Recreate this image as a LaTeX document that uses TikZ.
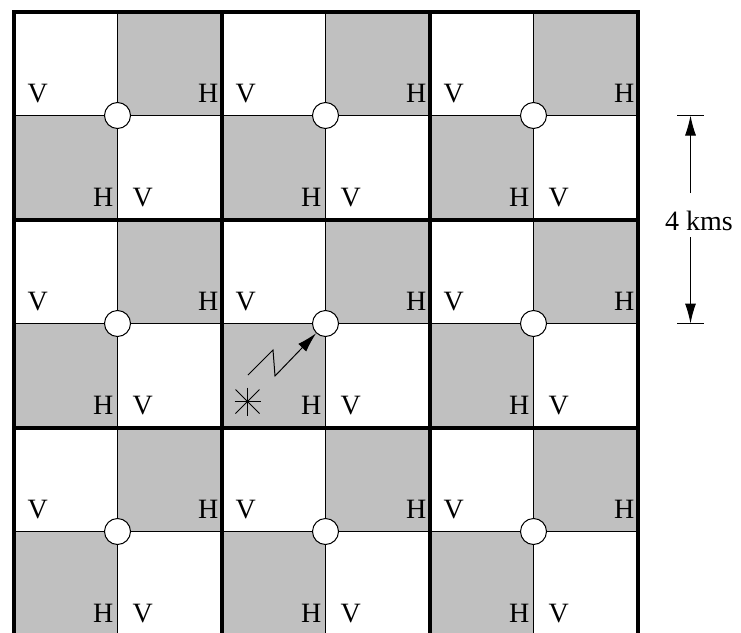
\documentclass[tikz,border=0pt]{standalone}
\usepackage{fontspec}
\setmainfont{Liberation Serif}
\usetikzlibrary{arrows.meta}
\definecolor{cellgray}{HTML}{C0C0C0}
\begin{document}
\begin{tikzpicture}[x=1pt,y=-1pt,
  lbl/.style={inner sep=0pt,font=\fontsize{28}{30}\selectfont},
  thinline/.style={line width=1pt},
  thickline/.style={line width=4pt},
  junction/.style={circle,draw,fill=white,line width=1pt,minimum size=26pt,inner sep=0pt},
  tip/.style={-{Latex[length=20pt,width=11pt]}}]
\useasboundingbox (0,0) rectangle (741,632);
% shaded cells
\foreach \i in {0,1,2}{\foreach \j in {0,1,2}{
  \pgfmathsetmacro\X{13.5+208*\i}
  \pgfmathsetmacro\Y{11.5+208*\j}
  \fill[cellgray] (\X+104,\Y) rectangle (\X+208,\Y+104);
  \fill[cellgray] (\X,\Y+104) rectangle (\X+104,\Y+208);
}}
% thin lines
\foreach \k in {1,3,5}{
  \draw[thinline] (13.5+104*\k,11.5) -- (13.5+104*\k,635.5);
  \draw[thinline] (13.5,11.5+104*\k) -- (637.5,11.5+104*\k);
}
% thick lines
\draw[thickline] (13.5,11.5) rectangle (637.5,635.5);
\foreach \k in {2,4}{
  \draw[thickline] (13.5+104*\k,11.5) -- (13.5+104*\k,635.5);
  \draw[thickline] (13.5,11.5+104*\k) -- (637.5,11.5+104*\k);
}
% junctions and labels
\foreach \i in {0,1,2}{\foreach \j in {0,1,2}{
  \pgfmathsetmacro\X{13.5+208*\i}
  \pgfmathsetmacro\Y{11.5+208*\j}
  \node[junction] (c\i\j) at (\X+104,\Y+104) {};
  \node[lbl,anchor=base west] (vt\i\j) at (\X+14,\Y+90.5) {V};
  \node[lbl,anchor=base east] (ht\i\j) at (\X+205,\Y+90.5) {H};
  \node[lbl,anchor=base east] (hb\i\j) at (\X+100,\Y+194.5) {H};
  \node[lbl,anchor=base west] (vb\i\j) at (\X+119,\Y+194.5) {V};
}}
% lightning arrow to middle junction
\coordinate (z0) at (248,375);
\coordinate (z1) at (273,350);
\coordinate (z2) at (275,376);
\draw[thinline,tip] (z0) -- (z1) -- (z2) -- (c11);
% asterisk (transmitter)
\coordinate (star) at (247.5,401.5);
\draw[thinline] (star) ++(-13,0) -- ++(26,0);
\draw[thinline] (star) ++(0,-14) -- ++(0,28);
\draw[thinline] (star) ++(-12,-12) -- ++(24,24);
\draw[thinline] (star) ++(-12,12) -- ++(24,-24);
% dimension
\coordinate (tl1) at (677,115.5);
\coordinate (tr1) at (704,115.5);
\coordinate (tl2) at (677,323.5);
\coordinate (tr2) at (704,323.5);
\coordinate (dtop) at (690.5,115.5);
\coordinate (dbot) at (690.5,323.5);
\coordinate (du) at (690.5,193);
\coordinate (dl) at (690.5,237);
\draw[thinline] (tl1) -- (tr1);
\draw[thinline] (tl2) -- (tr2);
\draw[thinline,tip] (du) -- (dtop);
\draw[thinline,tip] (dl) -- (dbot);
\node[lbl,anchor=base] (dimtext) at (699,230) {4 kms};
\end{tikzpicture}
\end{document}
